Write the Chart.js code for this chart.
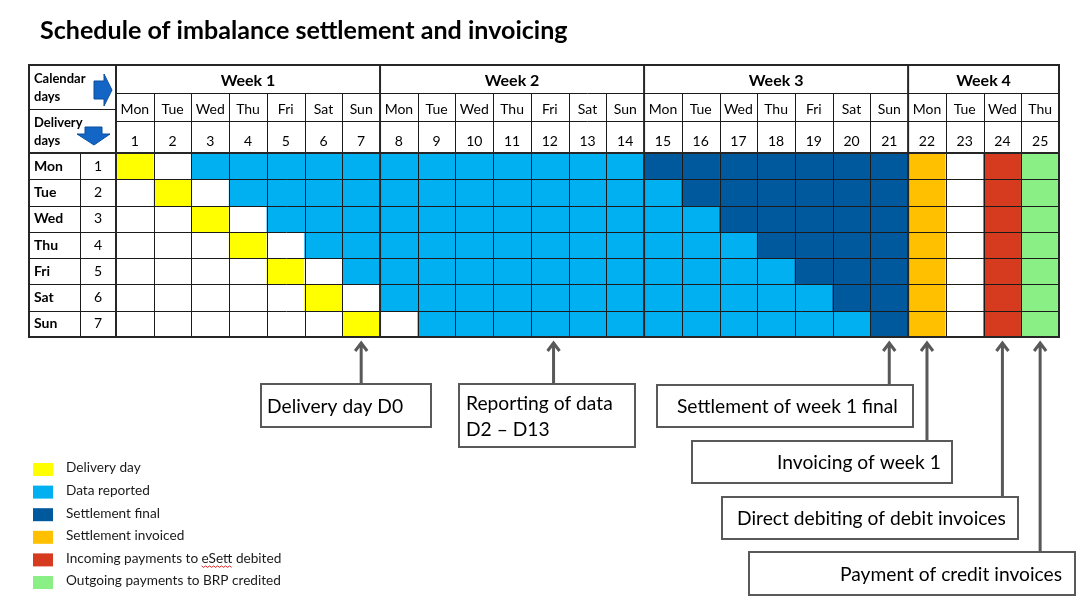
<!DOCTYPE html>
<html>
<head>
<meta charset="utf-8">
<script src="https://cdn.jsdelivr.net/npm/chart.js@4.4.1/dist/chart.umd.min.js"></script>
<style>
  html, body { margin: 0; background: #fff; }
  #wrap { width: 1092px; height: 616px; }
</style>
</head>
<body>
<div id="wrap"><canvas id="scheduleChart"></canvas></div>
<script>
// Data read from the schedule
var chartTitle = 'Schedule of imbalance settlement and invoicing';
var weekLabels = ['Week 1', 'Week 2', 'Week 3', 'Week 4'];
var weekSpans = [7, 7, 7, 4];
var calendarDays = ['1','2','3','4','5','6','7','8','9','10','11','12','13','14','15','16','17','18','19','20','21','22','23','24','25'];
var calendarDayNames = ['Mon','Tue','Wed','Thu','Fri','Sat','Sun','Mon','Tue','Wed','Thu','Fri','Sat','Sun',
                        'Mon','Tue','Wed','Thu','Fri','Sat','Sun','Mon','Tue','Wed','Thu'];
var deliveryDayNames = ['Mon', 'Tue', 'Wed', 'Thu', 'Fri', 'Sat', 'Sun'];
var deliveryDayNumbers = ['1', '2', '3', '4', '5', '6', '7'];
// one letter per calendar day: Y delivery, L reported, D final, O invoiced, R debited, G credited, . empty
var cellStatus = [
  'Y.LLLLLLLLLLLLDDDDDDDO.RG',
  '.Y.LLLLLLLLLLLLDDDDDDO.RG',
  '..Y.LLLLLLLLLLLLDDDDDO.RG',
  '...Y.LLLLLLLLLLLLDDDDO.RG',
  '....Y.LLLLLLLLLLLLDDDO.RG',
  '.....Y.LLLLLLLLLLLLDDO.RG',
  '......Y.LLLLLLLLLLLLDO.RG'
];
var legendCodes = ['Y', 'L', 'D', 'O', 'R', 'G'];
var legendLabels = ['Delivery day', 'Data reported', 'Settlement final', 'Settlement invoiced',
                    'Incoming payments to eSett debited', 'Outgoing payments to BRP credited'];
var noteTexts = ['Delivery day D0', 'Reporting of data\nD2 \u2013 D13', 'Settlement of week 1 final',
                 'Invoicing of week 1', 'Direct debiting of debit invoices', 'Payment of credit invoices'];
var noteDayIndex = [6, 11.1, 20, 21, 23, 24];

// Styles and layout
var statusColors = { Y: '#FFFF00', L: '#00B0F0', D: '#00599D', O: '#FFC000', R: '#D63B1F', G: '#8AEF84', '.': '#FFFFFF' };
var FONT = 'Lato, "Open Sans", sans-serif';
var TABLE_LEFT = 29, TABLE_TOP = 65, LABEL_SPLIT = 80;
var WEEK_ROW_BOTTOM = 93, NAME_ROW_BOTTOM = 121, CAL_BOX_BOTTOM = 109;
// [x, y, w, h, textX]
var noteBoxes = [
  [261, 384, 170, 43, 267],
  [459, 384, 176, 63, 466],
  [657, 385, 256, 42, 677],
  [692, 441, 260, 42, 777],
  [722, 497, 296, 42, 737],
  [749, 552, 326, 43, 840]
];

function font(weight, size) { return weight + ' ' + size + 'px ' + FONT; }
function fitSize(ctx, text, targetW, weight, base) {
  ctx.font = font(weight, base);
  return base * targetW / ctx.measureText(text).width;
}
function crisp(v) { return Math.round(v) + 0.5; }

var schedulePlugin = {
  id: 'schedule',
  afterDatasetsDraw: function(chart) {
    var ctx = chart.ctx, a = chart.chartArea, x = chart.scales.x, y = chart.scales.y;
    var colEdge = function(i) { return x.getPixelForValue(i - 0.5); };
    var rowEdge = function(j) { return y.getPixelForValue(j); };
    ctx.save();

    // title
    var ts = fitSize(ctx, chartTitle, 528, 'bold', 22);
    ctx.font = font('bold', ts);
    ctx.fillStyle = '#000';
    ctx.textBaseline = 'middle';
    ctx.textAlign = 'left';
    ctx.fillText(chartTitle, 40, 31);

    // thin grid lines
    ctx.strokeStyle = '#1b1b1b';
    ctx.lineWidth = 1;
    ctx.beginPath();
    for (var j = 1; j < deliveryDayNames.length; j++) {
      var yy = crisp(rowEdge(j));
      ctx.moveTo(TABLE_LEFT, yy); ctx.lineTo(a.right, yy);
    }
    for (var i = 1; i < calendarDays.length; i++) {
      var xx = crisp(colEdge(i));
      ctx.moveTo(xx, WEEK_ROW_BOTTOM); ctx.lineTo(xx, a.bottom);
    }
    ctx.moveTo(a.left, crisp(WEEK_ROW_BOTTOM)); ctx.lineTo(a.right, crisp(WEEK_ROW_BOTTOM));
    ctx.moveTo(a.left, crisp(NAME_ROW_BOTTOM)); ctx.lineTo(a.right, crisp(NAME_ROW_BOTTOM));
    ctx.moveTo(TABLE_LEFT, crisp(CAL_BOX_BOTTOM)); ctx.lineTo(a.left, crisp(CAL_BOX_BOTTOM));
    ctx.moveTo(crisp(LABEL_SPLIT), a.top); ctx.lineTo(crisp(LABEL_SPLIT), a.bottom);
    ctx.stroke();

    // thick lines: frame, week separators, header bottom
    ctx.strokeStyle = '#262626';
    ctx.lineWidth = 2;
    ctx.strokeRect(TABLE_LEFT, TABLE_TOP, a.right - TABLE_LEFT, a.bottom - TABLE_TOP);
    ctx.beginPath();
    ctx.moveTo(a.left, TABLE_TOP); ctx.lineTo(a.left, a.bottom);
    var acc = 0;
    for (var w = 0; w < weekSpans.length - 1; w++) {
      acc += weekSpans[w];
      ctx.moveTo(colEdge(acc), TABLE_TOP); ctx.lineTo(colEdge(acc), a.bottom);
    }
    ctx.moveTo(TABLE_LEFT, a.top); ctx.lineTo(a.right, a.top);
    ctx.stroke();

    // header texts
    ctx.fillStyle = '#000';
    ctx.textAlign = 'center';
    ctx.font = font('bold', 16);
    acc = 0;
    weekLabels.forEach(function(lbl, k) {
      var cx = (colEdge(acc) + colEdge(acc + weekSpans[k])) / 2;
      ctx.fillText(lbl, cx, 81);
      acc += weekSpans[k];
    });
    ctx.font = font('normal', 14);
    calendarDays.forEach(function(d, k) {
      var cx = x.getPixelForValue(k);
      ctx.fillText(calendarDayNames[k], cx, 109);
      ctx.fillText(d, cx, 141);
    });
    deliveryDayNames.forEach(function(name, k) {
      var cy = (rowEdge(k) + rowEdge(k + 1)) / 2;
      ctx.textAlign = 'left';
      ctx.font = font('bold', 14);
      ctx.fillText(name, 34, cy);
      ctx.textAlign = 'center';
      ctx.font = font('normal', 14);
      ctx.fillText(deliveryDayNumbers[k], (LABEL_SPLIT + a.left) / 2, cy);
    });
    ctx.textAlign = 'left';
    ctx.font = font('bold', 13);
    ctx.fillText('Calendar', 34, 79);
    ctx.fillText('days', 34, 97);
    ctx.fillText('Delivery', 34, 123);
    ctx.fillText('days', 34, 141);

    // blue block arrows in the corner
    ctx.fillStyle = '#1366C6';
    ctx.strokeStyle = '#0B4F9C';
    ctx.lineWidth = 1;
    ctx.beginPath();
    ctx.moveTo(94, 81); ctx.lineTo(104, 81); ctx.lineTo(104, 74); ctx.lineTo(112, 90);
    ctx.lineTo(104, 106); ctx.lineTo(104, 99); ctx.lineTo(94, 99); ctx.closePath();
    ctx.fill(); ctx.stroke();
    ctx.beginPath();
    ctx.moveTo(85, 127); ctx.lineTo(102, 127); ctx.lineTo(102, 134); ctx.lineTo(110, 134);
    ctx.lineTo(94, 145); ctx.lineTo(77, 134); ctx.lineTo(85, 134); ctx.closePath();
    ctx.fill(); ctx.stroke();

    // annotation boxes with arrows
    var ns = fitSize(ctx, 'Settlement of week 1 final', 221, 'normal', 19);
    ctx.font = font('normal', ns);
    ctx.strokeStyle = '#595959';
    ctx.fillStyle = '#000';
    noteTexts.forEach(function(txt, k) {
      var b = noteBoxes[k];
      ctx.lineWidth = 2;
      ctx.strokeRect(b[0], b[1], b[2], b[3]);
      var lines = txt.split('\n');
      var y0 = b[1] + b[3] / 2 - (lines.length - 1) * 13 + 1;
      lines.forEach(function(ln, m) { ctx.fillText(ln, b[4], y0 + m * 26); });
      var ax = x.getPixelForValue(noteDayIndex[k]);
      var tip = a.bottom + 6;
      ctx.lineWidth = 3;
      ctx.beginPath();
      ctx.moveTo(ax, b[1]); ctx.lineTo(ax, tip + 1);
      ctx.moveTo(ax - 6, tip + 8); ctx.lineTo(ax, tip); ctx.lineTo(ax + 6, tip + 8);
      ctx.stroke();
    });

    // legend
    var ls = fitSize(ctx, legendLabels[5], 215, 'normal', 13);
    ctx.font = font('normal', ls);
    legendCodes.forEach(function(code, k) {
      var cy = 469.5 + k * 22.6;
      ctx.fillStyle = statusColors[code];
      ctx.fillRect(33, cy - 6.5, 20, 13);
      ctx.fillStyle = '#1a1a1a';
      ctx.fillText(legendLabels[k], 66, cy - 1.5);
    });
    // spell-check squiggle under "eSett"
    var lbl = legendLabels[4];
    var sx = 66 + ctx.measureText(lbl.slice(0, lbl.indexOf('eSett'))).width;
    var sw = ctx.measureText('eSett').width;
    var sy = 469.5 + 4 * 22.6 + 6;
    ctx.strokeStyle = '#E02020';
    ctx.lineWidth = 1;
    ctx.beginPath();
    for (var p = 0; p <= sw; p += 2) {
      var py = sy + ((p / 2) % 2 === 0 ? 0 : 1.5);
      if (p === 0) ctx.moveTo(sx + p, py); else ctx.lineTo(sx + p, py);
    }
    ctx.stroke();

    ctx.restore();
  }
};

window.addEventListener('DOMContentLoaded', function() {
  var ctx = document.getElementById('scheduleChart').getContext('2d');
  new Chart(ctx, {
    type: 'bar',
    data: {
      labels: calendarDays,
      datasets: deliveryDayNames.map(function(name, r) {
        return {
          label: name,
          data: calendarDays.map(function() { return 1; }),
          backgroundColor: cellStatus[r].split('').map(function(c) { return statusColors[c]; }),
          borderWidth: 0,
          barPercentage: 1,
          categoryPercentage: 1
        };
      })
    },
    options: {
      responsive: true,
      maintainAspectRatio: false,
      animation: false,
      layout: { padding: { left: 116, top: 153, right: 33, bottom: 279 } },
      plugins: { legend: { display: false }, tooltip: { enabled: false } },
      scales: {
        x: { stacked: true, display: false, offset: true },
        y: { stacked: true, display: false, min: 0, max: 7, reverse: true }
      }
    },
    plugins: [schedulePlugin]
  });
});
</script>
</body>
</html>
